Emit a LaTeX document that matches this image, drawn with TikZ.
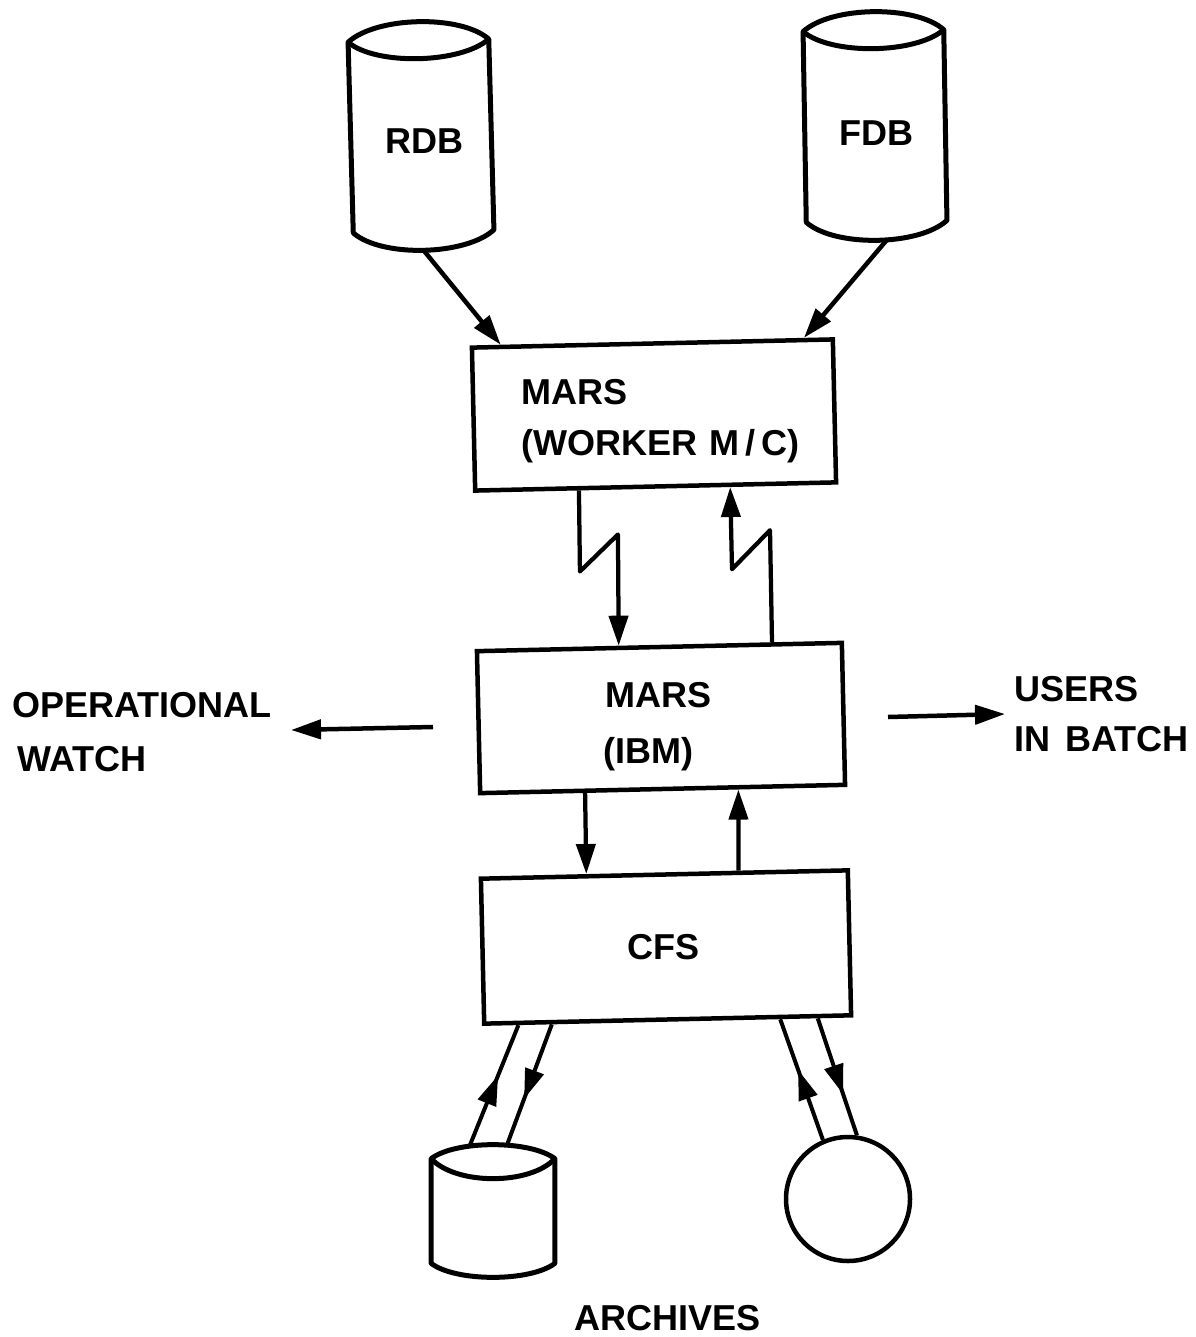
\documentclass[tikz,border=0pt]{standalone}
\usepackage{fontspec}
\setmainfont{Liberation Sans}
\usetikzlibrary{positioning}
\usetikzlibrary{calc}
\usetikzlibrary{arrows.meta}
\usetikzlibrary{decorations.markings}
\tikzset{
  procbox/.style={draw,line width=0.9mm,rotate=1.3,inner sep=0pt,minimum width=#1},
  discbox/.style={inner sep=0pt},
  discline/.style={line width=1mm,line join=round},
  lbl/.style={font=\fontsize{20.5}{24}\selectfont\bfseries,inner sep=0pt,anchor=base west},
  link/.style={line width=0.9mm,-{Triangle[length=6mm,width=3.8mm]},line join=round},
  thinlink/.style={line width=0.85mm,-{Triangle[length=6mm,width=3.8mm]},line join=round},
  midlink/.style={line width=0.8mm,postaction={decorate,decoration={markings,
    mark=at position #1 with {\arrow{Triangle[length=6mm,width=3.8mm]}}}}}
}
% outline of a store: node name, rim drop, depth of the front edge
\newcommand{\drawdisc}[3]{
 \coordinate (#1a) at ($(#1.north west)+(0,#2)$);
 \coordinate (#1b) at ($(#1.north east)+(0,#2)$);
 \coordinate (#1c) at ($(#1.south east)+(0,-#2)$);
 \coordinate (#1d) at ($(#1.south west)+(0,-#2)$);
 \draw[discline] (#1a) .. controls ($(#1a)!.2!(#1b)+(0,-4*#2/3)$) and ($(#1a)!.8!(#1b)+(0,-4*#2/3)$) .. (#1b)
   -- (#1c) .. controls ($(#1c)!.2!(#1d)+(0,4*#2/3)$) and ($(#1c)!.8!(#1d)+(0,4*#2/3)$) .. (#1d) -- cycle;
 \draw[discline] (#1a) .. controls ($(#1a)!.2!(#1b)+(0,4*#3/3)$) and ($(#1a)!.8!(#1b)+(0,4*#3/3)$) .. (#1b);
}
\begin{document}
\begin{tikzpicture}[x=0.2mm,y=-0.2mm]
 \useasboundingbox (0,0) rectangle (1195,1337);
 % stores
 \node[discbox,rotate=1.3,minimum width=2.8cm,minimum height=4.56cm] (rdb) at (421,136) {};
 \node[discbox,rotate=0.8,minimum width=2.8cm,minimum height=4.56cm] (fdb) at (875,126) {};
 \node[discbox,minimum width=2.46cm,minimum height=2.64cm] (arch) at (493,1211) {};
 \drawdisc{rdb}{19}{18}
 \drawdisc{fdb}{19}{18}
 \drawdisc{arch}{14}{20}
 \node[draw,circle,line width=0.9mm,minimum size=2.48cm,inner sep=0pt] (tape) at (848,1199) {};
 % boxes
 \node[procbox=7.22cm,minimum height=2.86cm] (worker) at (654,415) {};
 \node[procbox=7.3cm,minimum height=2.84cm] (ibm) at (661,718) {};
 \node[procbox=7.34cm,minimum height=2.9cm] (cfs) at (666,947) {};
 % labels
 \node[lbl] (rdbt) at (385,154) {RDB};
 \node[lbl] (fdbt) at (839,146) {FDB};
 \node[lbl] (workera) at (521,404) {MARS};
 \node[lbl] (workerb) at (521,455) {(WORKER\hspace{2.5mm}M\,/\,C)};
 \node[lbl] (ibma) at (605,707) {MARS};
 \node[lbl] (ibmb) at (603,763) {(IBM)};
 \node[lbl] (cfst) at (627,959) {CFS};
 \node[lbl] (opa) at (12,717) {OPERATIONAL};
 \node[lbl] (opb) at (17,771) {WATCH};
 \node[lbl] (usra) at (1014,701) {USERS};
 \node[lbl] (usrb) at (1014,751) {IN\hspace{3mm}BATCH};
 \node[lbl] (archt) at (574,1330) {ARCHIVES};
 % free ends
 \coordinate (opfrom) at (433,727);
 \coordinate (opto) at (291,730);
 \coordinate (usrfrom) at (888,717);
 \coordinate (usrto) at (1005,714);
 % connectors
 \draw[link] (rdb.south) -- ($(worker.north west)!.085!(worker.north east)$);
 \draw[link] (fdb.-85) -- ($(worker.north west)!.915!(worker.north east)$);
 \draw[thinlink] ($(worker.south west)!.29!(worker.south east)$) -- ++(1,81) -- ++(38,-37)
   -- ($(ibm.north west)!.39!(ibm.north east)$);
 \draw[thinlink] ($(ibm.north west)!.805!(ibm.north east)$) -- ++(-2,-112) -- ++(-38,39)
   -- ($(worker.south west)!.704!(worker.south east)$);
 \draw[thinlink] ($(ibm.south west)!.29!(ibm.south east)$) -- ($(cfs.north west)!.29!(cfs.north east)$);
 \draw[thinlink] ($(cfs.north west)!.70!(cfs.north east)$) -- ($(ibm.south west)!.705!(ibm.south east)$);
 \draw[link] (opfrom) -- (opto);
 \draw[link] (usrfrom) -- (usrto);
 \draw[midlink=.58] (arch.109) -- ($(cfs.south west)!.098!(cfs.south east)$);
 \draw[midlink=.62] ($(cfs.south west)!.188!(cfs.south east)$) -- (arch.78);
 \draw[midlink=.58] (tape.113) -- ($(cfs.south west)!.803!(cfs.south east)$);
 \draw[midlink=.65] ($(cfs.south west)!.904!(cfs.south east)$) -- (tape.82);
\end{tikzpicture}
\end{document}
